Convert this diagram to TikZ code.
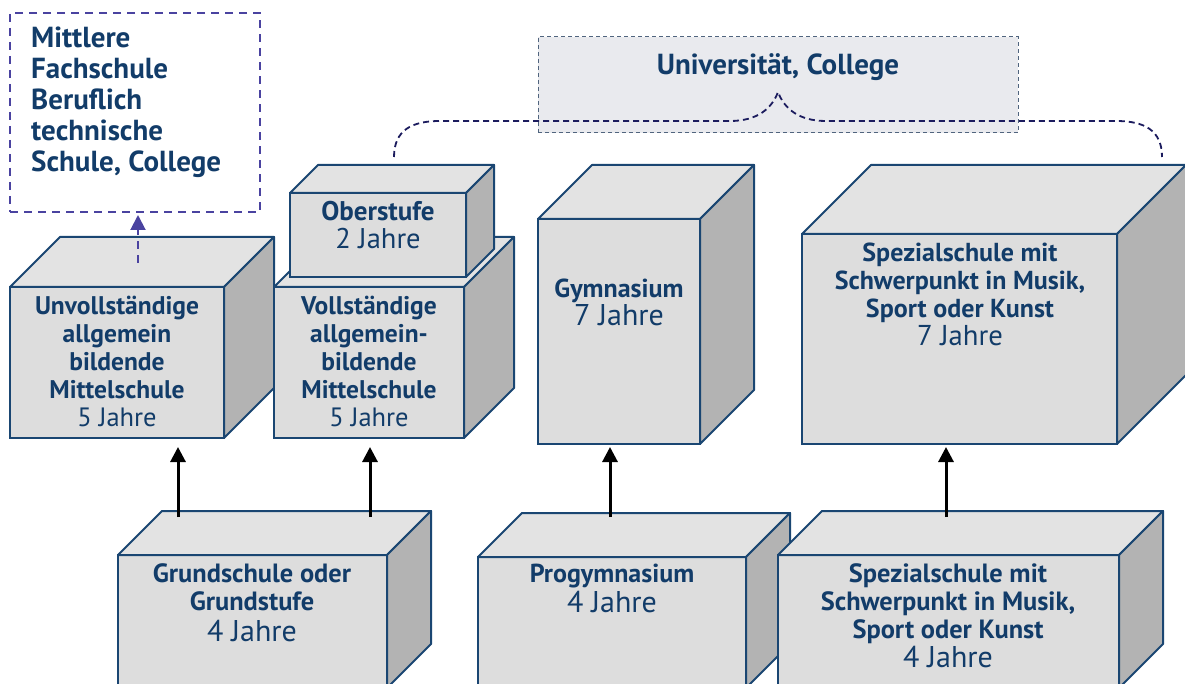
\documentclass[tikz,border=0pt]{standalone}
\usepackage{fontspec}
\setmainfont{PT Sans}
\usetikzlibrary{arrows.meta}
\definecolor{txt}{HTML}{123C69}
\definecolor{edge}{HTML}{1A4672}
\definecolor{frontc}{HTML}{DDDDDD}
\definecolor{topc}{HTML}{E3E3E3}
\definecolor{sidec}{HTML}{B3B3B3}
\definecolor{purp}{HTML}{4A43A0}
\definecolor{navy}{HTML}{1C1C5E}
\definecolor{unifill}{HTML}{E9EAEE}
\definecolor{uniedge}{HTML}{50647E}
\tikzset{
  frontface/.style={draw=edge, fill=frontc, line width=2pt, inner sep=0pt, outer sep=0pt},
  topface/.style={draw=edge, fill=topc, line width=2pt, line join=round},
  sideface/.style={draw=edge, fill=sidec, line width=2pt, line join=round},
  boxtext/.style={text=txt, align=center, anchor=north, inner sep=0pt, font=\bfseries\fontsize{#1}{28}\selectfont},
  boxtext/.default=26,
  fachbox/.style={draw=purp, line width=2pt, dash pattern=on 8pt off 6pt, inner sep=0pt, outer sep=0pt},
  fachtext/.style={text=txt, align=left, anchor=north west, inner sep=0pt, font=\bfseries\fontsize{29}{31}\selectfont},
  unibox/.style={draw=uniedge, fill=unifill, line width=1pt, dash pattern=on 4pt off 3pt, inner sep=0pt, outer sep=0pt},
  upar/.style={line width=3pt, black, -{Triangle[length=15pt,width=15pt]}},
  purpar/.style={line width=2pt, purp, dash pattern=on 8pt off 6pt, -{Triangle[length=15pt,width=15pt]}},
  bracestyle/.style={line width=1.8pt, navy, dash pattern=on 6pt off 4pt}
}
\newcommand\fl{\rule{0pt}{23pt}}
\newcommand\jr[2][30]{{\mdseries\fontsize{#1}{28}\selectfont #2}}
\newcommand\drawcube[6]{%
  \node[frontface, minimum width={(#4)-(#2)}, minimum height={(#5)-(#3)}, anchor=north west] (#1) at (#2,#3) {};
  \filldraw[topface] (#1.north west) -- ++(#6,-#6) -- ([shift={(#6,-#6)}]#1.north east) -- (#1.north east) -- cycle;
  \filldraw[sideface] (#1.north east) -- ++(#6,-#6) -- ([shift={(#6,-#6)}]#1.south east) -- (#1.south east) -- cycle;
}
\begin{document}
\begin{tikzpicture}[x=1pt, y={(0pt,-1pt)}]
\useasboundingbox (0,0) rectangle (1185,684);
\clip (0,0) rectangle (1185,684);

% left dashed box
\node[fachbox, minimum width=250, minimum height=199, anchor=north west] (fach) at (10,13) {};
\node[fachtext] (fach-t) at (31,24.5) {\fl Mittlere\\Fachschule\\Beruflich\\technische\\Schule, College};

% university box
\node[unibox, minimum width=480, minimum height=96, anchor=north west] (uni) at (538,37) {};
\node[boxtext=29] (uni-t) at (778,51) {\fl Universität, College};

% upper cubes
\drawcube{unv}{10}{287}{224}{438}{50}
\drawcube{voll}{274}{287}{464}{438}{50}
\drawcube{ober}{290}{193}{466}{277}{28}
\drawcube{gym}{538}{219}{700}{444}{54}
\drawcube{spez7}{802}{234}{1117}{444}{69}

% lower cubes
\drawcube{grund}{118}{555}{387}{688}{44}
\drawcube{prog}{478}{557}{746}{688}{44}
\drawcube{spez4}{778}{555}{1119}{688}{44}

% texts
\node[boxtext=25.5] (unv-t) at (117,291) {\fl Unvollständige\\allgemein\\bildende\\Mittelschule\\\jr[26.5]{5 Jahre}};
\node[boxtext=25.5] (voll-t) at (369,291) {\fl Vollständige\\allgemein-\\bildende\\Mittelschule\\\jr[26.5]{5 Jahre}};
\node[boxtext=27] (ober-t) at (378,197) {\fl Oberstufe\\\jr[28.5]{2 Jahre}};
\node[boxtext=26] (gym-t) at (619,274) {\fl Gymnasium\\\jr{7 Jahre}};
\node[boxtext=26] (spez7-t) at (960,238) {\fl Spezialschule mit\\Schwerpunkt in Musik,\\Sport oder Kunst\\\jr[28.7]{7 Jahre}};
\node[boxtext=26.4] (grund-t) at (252,559) {\fl Grundschule oder\\Grundstufe\\[3pt]\jr{4 Jahre}};
\node[boxtext=26] (prog-t) at (612,559) {\fl Progymnasium\\[2pt]\jr{4 Jahre}};
\node[boxtext=26.4] (spez4-t) at (948,559) {\fl Spezialschule mit\\Schwerpunkt in Musik,\\Sport oder Kunst\\[1pt]\jr{4 Jahre}};

% arrows
\coordinate (ga) at (178,517);
\coordinate (gb) at (370,517);
\coordinate (pa) at (610,517);
\coordinate (sa) at (946,517);
\draw[upar, shorten >=9pt] (ga) -- (ga |- unv.south);
\draw[upar, shorten >=9pt] (gb) -- (gb |- voll.south);
\draw[upar, shorten >=3pt] (pa) -- (pa |- gym.south);
\draw[upar, shorten >=3pt] (sa) -- (sa |- spez7.south);

\coordinate (ua) at (138,263);
\draw[purpar, shorten >=3pt] (ua) -- (ua |- fach.south);

% brace
\coordinate (bl) at (394,157);
\coordinate (bp) at (778,92);
\coordinate (br) at (1162,157);
\draw[bracestyle] (bl) .. controls (394,130) and (412,121) .. (440,121) -- (730,121)
  .. controls (758,121) and (772,108) .. (bp)
  .. controls (784,108) and (798,121) .. (826,121) -- (1116,121)
  .. controls (1144,121) and (1162,130) .. (br);
\end{tikzpicture}
\end{document}
